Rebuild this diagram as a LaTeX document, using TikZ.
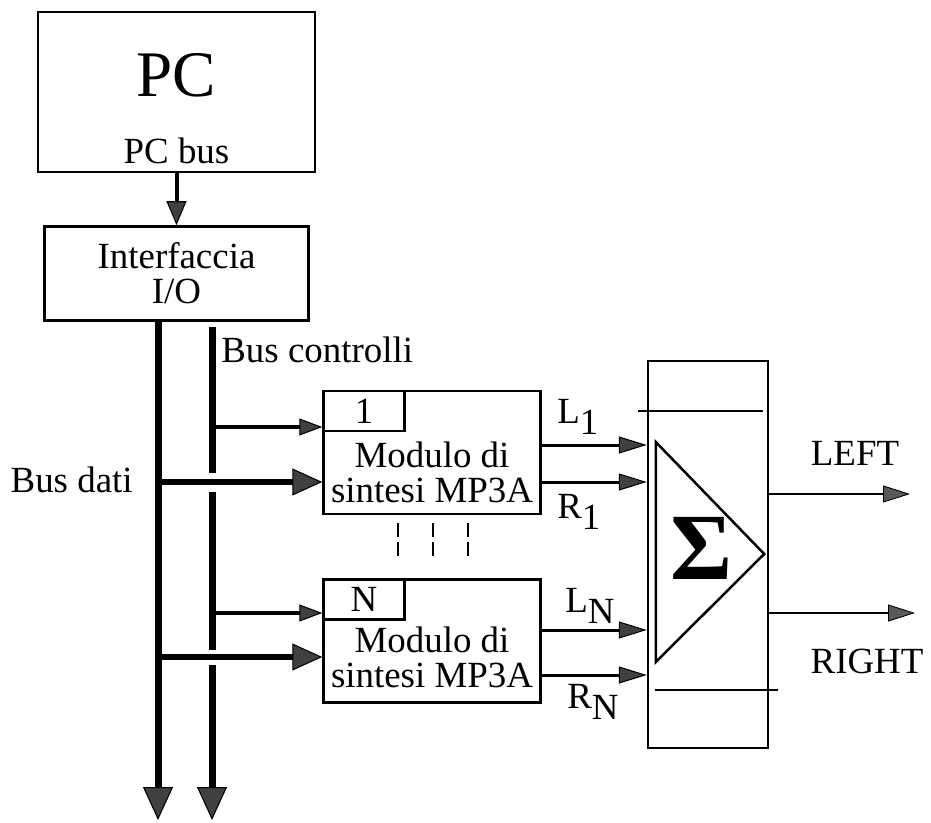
\documentclass[tikz,border=0pt]{standalone}
\usepackage{fontspec}
\setmainfont{Liberation Serif}
\usetikzlibrary{arrows.meta,positioning,calc}
\newcommand{\lowr}[1]{\raisebox{-0.22cm}{#1}}

\begin{document}
\begin{tikzpicture}[
  blk/.style={draw, line width=1.4pt, inner sep=0pt, align=center, font=\fontsize{21}{20}\selectfont},
  tag/.style={draw, line width=1.4pt, inner sep=0pt, anchor=north west, minimum width=1.62cm, minimum height=0.80cm, font=\fontsize{21}{20}\selectfont},
  txt/.style={inner sep=0pt, align=center, font=\fontsize{21}{20}\selectfont},
  bus/.style={line width=0.14cm, -{Triangle[length=0.66cm, width=0.60cm, line width=0.6pt, fill=black!75]}},
  busseg/.style={line width=0.14cm},
  dat/.style={line width=0.12cm, -{Triangle[length=0.60cm, width=0.54cm, line width=0.6pt, fill=black!75]}},
  ctl/.style={line width=0.08cm, -{Triangle[length=0.46cm, width=0.34cm, line width=0.6pt, fill=black!75]}},
  sig/.style={line width=0.06cm, -{Triangle[length=0.56cm, width=0.34cm, line width=0.6pt, fill=black!75]}},
  outa/.style={line width=0.05cm, -{Triangle[length=0.54cm, width=0.34cm, line width=0.5pt, fill=black!65]}},
  node distance=1.04cm]
\useasboundingbox (0,0) rectangle (18.62,16.44);
\node[blk, minimum width=5.54cm, minimum height=3.20cm] (pc) at (3.53,14.60) {};
\node[txt, anchor=base, font=\fontsize{37}{37}\selectfont] (pcname) at ([yshift=-0.10cm]pc.center) {PC};
\node[txt, anchor=base] (pcbus) at ([yshift=0.20cm]pc.south) {PC bus};
\node[blk, minimum width=5.28cm, minimum height=1.88cm, below=of pc] (ifc) {Interfaccia\\I/O};
\draw[line width=0.08cm, -{Triangle[length=0.48cm, width=0.40cm, line width=0.6pt, fill=black!75]}] (pc.south) -- (ifc.north);

\node[blk, minimum width=4.34cm, minimum height=2.46cm] (m1) at (8.64,7.39) {};
\node[blk, minimum width=4.34cm, minimum height=2.46cm, below=1.26cm of m1] (mN) {};
\node[tag] (t1) at (m1.north west) {1};
\node[tag] (tN) at (mN.north west) {N};
\node[txt] (m1txt) at ([yshift=-0.40cm]m1.center) {Modulo di\\sintesi MP3A};
\node[txt] (mNtxt) at ([yshift=-0.32cm]mN.center) {Modulo di\\sintesi MP3A};
\foreach \dx in {-0.68,0.02,0.72}
  \draw[line width=0.05cm, dash pattern=on 0.28cm off 0.10cm] ([xshift=\dx cm, yshift=-0.16cm]m1.south) -- ++(0,-0.66);

\coordinate (dbot) at (3.16,0.04);
\coordinate (cbot) at (4.24,0.04);
\coordinate (d1) at (3.16,6.80);
\coordinate (dN) at (3.16,3.30);
\coordinate (c1) at (4.24,7.90);
\coordinate (cN) at (4.24,4.18);
\draw[bus] (ifc.south -| dbot) -- (dbot);
\draw[busseg] ($(ifc.south -| cbot)+(0,-0.10)$) -- ($(d1 -| cbot)+(0,0.19)$);
\draw[busseg] ($(d1 -| cbot)+(0,-0.19)$) -- ($(dN -| cbot)+(0,0.15)$);
\draw[bus] ($(dN -| cbot)+(0,-0.15)$) -- (cbot);
\draw[dat] (d1) -- (d1 -| m1.west);
\draw[dat] (dN) -- (dN -| mN.west);
\draw[ctl] (c1) -- (c1 -| m1.west);
\draw[ctl] (cN) -- (cN -| mN.west);
\node[txt, anchor=base east] (busd) at (2.66,6.60) {Bus dati};
\node[txt, anchor=base west] (busc) at (4.42,9.20) {Bus controlli};

\node[blk, minimum width=2.40cm, minimum height=7.74cm] (sum) at (14.16,5.35) {};
\draw[line width=0.05cm] ($(sum.west)+(0.18,2.25)$) -- ($(sum.west)+(0.18,-2.15)$) -- ($(sum.east)+(-0.10,0.01)$) -- cycle;
\node[txt, font=\fontsize{54}{54}\selectfont\bfseries] (sigma) at (14.04,5.48) {Σ};
\draw[line width=0.04cm] (12.76,8.22) -- (15.26,8.22);
\draw[line width=0.04cm] (13.10,2.64) -- (15.56,2.64);
\foreach \y/\m in {7.54/m1, 6.80/m1, 3.84/mN, 2.94/mN}
  \draw[sig] (\m.east |- 0,\y) -- (sum.west |- 0,\y);
\node[txt, anchor=base west] (l1) at (11.14,7.98) {L\lowr{1}};
\node[txt, anchor=base west] (r1) at (11.14,6.08) {R\lowr{1}};
\node[txt, anchor=base west] (lN) at (11.30,4.20) {L\lowr{N}};
\node[txt, anchor=base west] (rN) at (11.34,2.28) {R\lowr{N}};

\coordinate (lout) at (18.20,6.56);
\coordinate (rout) at (18.30,4.18);
\draw[outa] (sum.east |- lout) -- (lout);
\draw[outa] (sum.east |- rout) -- (rout);
\node[txt, anchor=base] (lefttxt) at (17.10,7.14) {LEFT};
\node[txt, anchor=base] (righttxt) at (17.34,2.98) {RIGHT};
\end{tikzpicture}
\end{document}
